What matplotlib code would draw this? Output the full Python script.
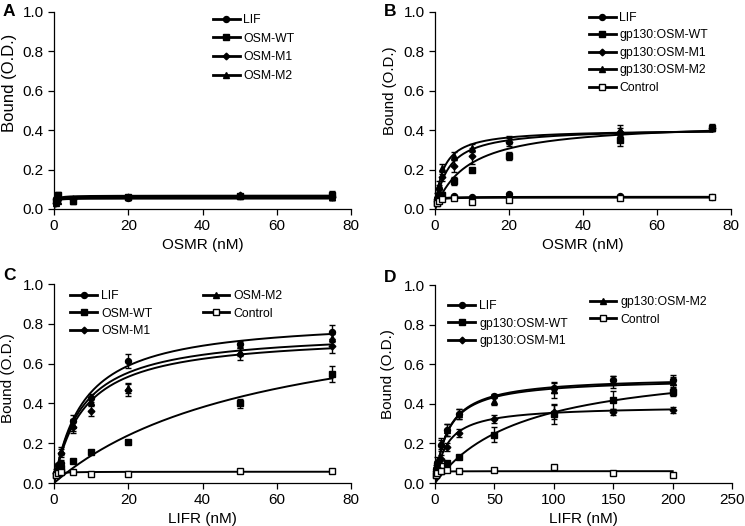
import matplotlib.pyplot as plt
import numpy as np
from matplotlib.lines import Line2D

plt.rcParams['font.family'] = ['Liberation Sans', 'DejaVu Sans']

# ---------------- Panel A: OSMR binding ----------------
a_x = [0.5, 1, 5, 20, 50, 75]
a_labels = ['LIF', 'OSM-WT', 'OSM-M1', 'OSM-M2']
a_markers = ['o', 's', 'D', '^']
a_y = [
    [0.05, 0.06, 0.05, 0.055, 0.065, 0.065],
    [0.04, 0.07, 0.04, 0.06, 0.065, 0.07],
    [0.03, 0.05, 0.05, 0.06, 0.07, 0.06],
    [0.03, 0.04, 0.05, 0.06, 0.065, 0.06],
]
a_err = [
    [0.01, 0.015, 0.01, 0.008, 0.006, 0.02],
    [0.01, 0.015, 0.015, 0.008, 0.006, 0.02],
    [0.01, 0.01, 0.01, 0.008, 0.006, 0.015],
    [0.01, 0.01, 0.01, 0.008, 0.006, 0.015],
]
a_bmax = [0.053, 0.068, 0.063, 0.058]
a_kd = [0.2, 0.3, 0.3, 0.3]

# ---------------- Panel B: gp130:OSM to OSMR ----------------
b_x = [0.5, 1, 2, 5, 10, 20, 50, 75]
b_labels = ['LIF', 'gp130:OSM-WT', 'gp130:OSM-M1', 'gp130:OSM-M2', 'Control']
b_markers = ['o', 's', 'D', '^', 's']
b_y = [
    [0.04, 0.05, 0.055, 0.065, 0.06, 0.075, 0.065, 0.06],
    [0.03, 0.05, 0.07, 0.14, 0.20, 0.27, 0.35, 0.41],
    [0.05, 0.10, 0.16, 0.22, 0.27, 0.34, 0.39, 0.41],
    [0.07, 0.12, 0.21, 0.27, 0.31, 0.35, 0.40, 0.415],
    [0.03, 0.04, 0.05, 0.055, 0.035, 0.045, 0.055, 0.06],
]
b_err = [
    [0.005, 0.005, 0.005, 0.005, 0.005, 0.005, 0.005, 0.005],
    [0.01, 0.01, 0.015, 0.02, 0.01, 0.02, 0.03, 0.015],
    [0.01, 0.02, 0.02, 0.03, 0.04, 0.02, 0.02, 0.015],
    [0.01, 0.02, 0.02, 0.02, 0.02, 0.02, 0.025, 0.015],
    [0.005, 0.005, 0.005, 0.005, 0.005, 0.005, 0.005, 0.005],
]
b_bmax = [0.062, 0.445, 0.412, 0.405, 0.058]
b_kd = [0.3, 9.0, 3.6, 2.3, 0.3]

# ---------------- Panel C: LIFR binding ----------------
c_x = [0.5, 1, 2, 5, 10, 20, 50, 75]
c_labels = ['LIF', 'OSM-WT', 'OSM-M1', 'OSM-M2', 'Control']
c_markers = ['o', 's', 'D', '^', 's']
c_y = [
    [0.05, 0.09, 0.10, 0.31, 0.43, 0.615, 0.70, 0.76],
    [0.04, 0.06, 0.075, 0.11, 0.155, 0.205, 0.40, 0.55],
    [0.05, 0.07, 0.15, 0.28, 0.36, 0.47, 0.65, 0.69],
    [0.06, 0.08, 0.16, 0.29, 0.41, 0.48, 0.66, 0.73],
    [0.04, 0.05, 0.055, 0.055, 0.045, 0.045, 0.06, 0.06],
]
c_err = [
    [0.01, 0.01, 0.015, 0.03, 0.02, 0.035, 0.015, 0.035],
    [0.01, 0.01, 0.01, 0.01, 0.01, 0.01, 0.025, 0.04],
    [0.01, 0.01, 0.02, 0.03, 0.025, 0.03, 0.03, 0.035],
    [0.01, 0.01, 0.02, 0.03, 0.02, 0.025, 0.02, 0.02],
    [0.005, 0.005, 0.005, 0.005, 0.005, 0.005, 0.005, 0.005],
]
c_bmax = [0.832, 0.932, 0.751, 0.769, 0.057]
c_kd = [8.2, 57.7, 8.1, 7.7, 0.3]

# ---------------- Panel D: gp130:OSM to LIFR ----------------
d_x = [1, 2, 5, 10, 20, 50, 100, 150, 200]
d_labels = ['LIF', 'gp130:OSM-WT', 'gp130:OSM-M1', 'gp130:OSM-M2', 'Control']
d_markers = ['o', 's', 'D', '^', 's']
d_y = [
    [0.07, 0.10, 0.19, 0.27, 0.35, 0.44, 0.48, 0.52, 0.52],
    [0.04, 0.05, 0.06, 0.10, 0.13, 0.245, 0.35, 0.42, 0.46],
    [0.06, 0.08, 0.12, 0.18, 0.255, 0.325, 0.36, 0.36, 0.37],
    [0.08, 0.11, 0.20, 0.27, 0.35, 0.415, 0.47, 0.51, 0.51],
    [0.04, 0.05, 0.06, 0.065, 0.06, 0.065, 0.082, 0.05, 0.04],
]
d_err = [
    [0.01, 0.01, 0.03, 0.03, 0.025, 0.01, 0.025, 0.02, 0.025],
    [0.01, 0.01, 0.01, 0.01, 0.01, 0.04, 0.05, 0.045, 0.02],
    [0.01, 0.01, 0.02, 0.02, 0.02, 0.02, 0.035, 0.015, 0.015],
    [0.01, 0.02, 0.03, 0.03, 0.025, 0.02, 0.04, 0.03, 0.025],
    [0.005, 0.005, 0.005, 0.005, 0.005, 0.005, 0.005, 0.005, 0.005],
]
d_bmax = [0.539, 0.626, 0.391, 0.530, 0.06]
d_kd = [11.2, 75.0, 10.1, 11.0, 0.3]


def msize(marker):
    return 3.4 if marker == 'D' else 4.3


def legend_handle(marker, label):
    open_face = label == 'Control'
    return Line2D([], [], color='black', lw=2.0, marker=marker,
                  markersize=msize(marker),
                  markerfacecolor='white' if open_face else 'black',
                  markeredgecolor='black', label=label)


def draw_panel(ax, x, ys, errs, bmax, kd, labels, markers, xmax, xstep, xlabel,
               ylabel_pos=(-0.13, 0.5), ylabel_size=11):
    xf = np.linspace(0, max(x), 400)
    for y, e, bm, k, lab, m in zip(ys, errs, bmax, kd, labels, markers):
        open_face = lab == 'Control'
        ax.plot(xf, bm * xf / (k + xf), color='black', lw=1.4, zorder=2)
        ax.errorbar(x, y, yerr=e, fmt=m, color='black',
                    markersize=msize(m),
                    markerfacecolor='white' if open_face else 'black',
                    markeredgecolor='black', ecolor='black',
                    elinewidth=1, capsize=2.5, capthick=1, zorder=3,
                    clip_on=False)
    ax.set_xlim(0, xmax)
    ax.set_ylim(0, 1.0)
    ax.set_xticks(np.arange(0, xmax + 1, xstep))
    ax.set_yticks(np.arange(0, 1.01, 0.2))
    ax.set_yticklabels(['%.1f' % v for v in np.arange(0, 1.01, 0.2)])
    ax.spines['top'].set_visible(False)
    ax.spines['right'].set_visible(False)
    for s in ('left', 'bottom'):
        ax.spines[s].set_linewidth(0.9)
    ax.tick_params(direction='out', length=4, width=0.9, labelsize=11)
    ax.set_xlabel(xlabel, fontsize=11, labelpad=3)
    ax.set_ylabel('Bound (O.D.)', fontsize=ylabel_size)
    ax.yaxis.set_label_coords(*ylabel_pos)


fig = plt.figure(figsize=(7.45, 5.26), dpi=100)
axA = fig.add_axes([0.0725, 0.6027, 0.3987, 0.3745])
axB = fig.add_axes([0.584, 0.6027, 0.397, 0.3745])
axC = fig.add_axes([0.0725, 0.0817, 0.3987, 0.378])
axD = fig.add_axes([0.584, 0.0817, 0.3987, 0.376])

draw_panel(axA, a_x, a_y, a_err, a_bmax, a_kd, a_labels, a_markers, 80, 20, 'OSMR (nM)',
           ylabel_pos=(-0.125, 0.64), ylabel_size=12)
draw_panel(axB, b_x, b_y, b_err, b_bmax, b_kd, b_labels, b_markers, 80, 20, 'OSMR (nM)',
           ylabel_pos=(-0.128, 0.60), ylabel_size=10.8)
draw_panel(axC, c_x, c_y, c_err, c_bmax, c_kd, c_labels, c_markers, 80, 20, 'LIFR (nM)',
           ylabel_pos=(-0.13, 0.53), ylabel_size=11)
draw_panel(axD, d_x, d_y, d_err, d_bmax, d_kd, d_labels, d_markers, 250, 50, 'LIFR (nM)',
           ylabel_pos=(-0.135, 0.55), ylabel_size=11)

leg_kw = dict(frameon=False, fontsize=8.8, handlelength=2.2, handletextpad=0.3,
              borderpad=0, borderaxespad=0, labelspacing=0.55)

axA.legend(handles=[legend_handle(m, l) for m, l in zip(a_markers, a_labels)],
           loc='upper left', bbox_to_anchor=(0.535, 0.99), **leg_kw)
axB.legend(handles=[legend_handle(m, l) for m, l in zip(b_markers, b_labels)],
           loc='upper left', bbox_to_anchor=(0.52, 1.0), **dict(leg_kw, labelspacing=0.45))

lc1 = axC.legend(handles=[legend_handle(m, l) for m, l in zip(c_markers[:3], c_labels[:3])],
                 loc='upper left', bbox_to_anchor=(0.055, 0.97), **dict(leg_kw, labelspacing=0.45))
axC.add_artist(lc1)
axC.legend(handles=[legend_handle(m, l) for m, l in zip(c_markers[3:], c_labels[3:])],
           loc='upper left', bbox_to_anchor=(0.5, 0.97), **dict(leg_kw, labelspacing=0.45))

ld1 = axD.legend(handles=[legend_handle(m, l) for m, l in zip(d_markers[:3], d_labels[:3])],
                 loc='upper left', bbox_to_anchor=(0.045, 0.925), **dict(leg_kw, labelspacing=0.45))
axD.add_artist(ld1)
axD.legend(handles=[legend_handle(m, l) for m, l in zip(d_markers[3:], d_labels[3:])],
           loc='upper left', bbox_to_anchor=(0.52, 0.945), **dict(leg_kw, labelspacing=0.45))

for ax, letter, (px, py) in zip([axA, axB, axC, axD], 'ABCD',
                                 [(3, 4), (372 + 12, 4), (3, 268), (372 + 12, 270)]):
    fig.text(px / 745, 1 - py / 526, letter, fontsize=12.5, fontweight='bold',
             ha='left', va='top')

fig.savefig('out.png', dpi=100)
